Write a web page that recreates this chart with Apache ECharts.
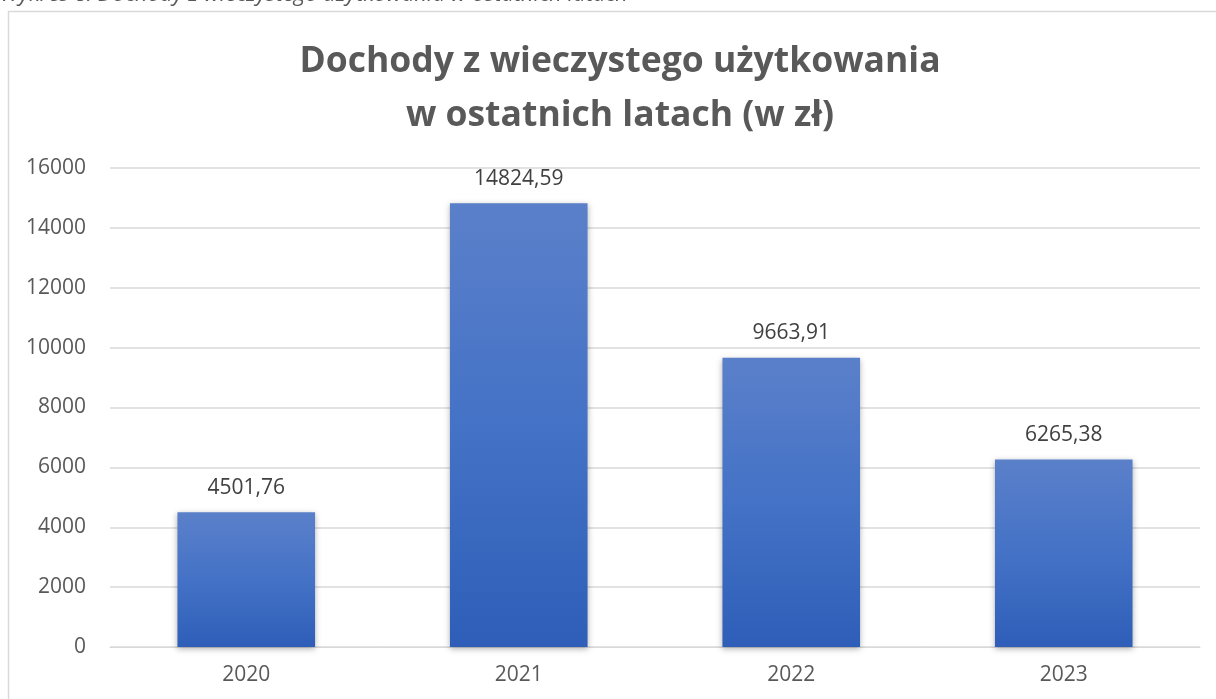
<!DOCTYPE html>
<html>
<head>
<meta charset="utf-8">
<script src="https://cdn.jsdelivr.net/npm/echarts@6/dist/echarts.min.js"></script>
<style>html,body{margin:0;padding:0;background:#fff;}#c{width:1216px;height:699px;}</style>
</head>
<body>
<div id="c"></div>
<script>
const categories = ['2020', '2021', '2022', '2023'];
const values = [4501.76, 14824.59, 9663.91, 6265.38];
const titleLines = ['Dochody z wieczystego użytkowania', 'w ostatnich latach (w zł)'];
const caption = 'Wykres 8. Dochody z wieczystego użytkowania w ostatnich latach';

const chart = echarts.init(document.getElementById('c'));
const fmt = v => v.toFixed(2).replace('.', ',');
chart.setOption({
  animation: false,
  backgroundColor: '#fff',
  graphic: [
    { type: 'rect', shape: { x: 8.5, y: 11.5, width: 1220, height: 700 }, style: { fill: 'none', stroke: '#d9d9d9', lineWidth: 1.5 } },
    { type: 'text', x: 0, y: -16, style: { text: caption, font: 'italic 22px "Open Sans", sans-serif', fill: '#595959', textVerticalAlign: 'top' } }
  ],
  title: {
    text: titleLines.join('\n'),
    left: 615,
    textAlign: 'center',
    top: 29.5,
    textStyle: { fontFamily: '"Open Sans", sans-serif', fontWeight: 'bold', fontSize: 35.5, color: '#595959', lineHeight: 54 }
  },
  grid: { left: 110, right: 16, top: 168, bottom: 52 },
  xAxis: {
    type: 'category',
    data: categories,
    axisLine: { lineStyle: { color: '#d9d9d9', width: 1 } },
    axisTick: { show: false },
    axisLabel: { color: '#595959', fontSize: 21, fontFamily: '"Open Sans", sans-serif', margin: 18 }
  },
  yAxis: {
    type: 'value',
    min: 0, max: 16000, interval: 2000,
    axisLine: { show: false },
    axisTick: { show: false },
    axisLabel: { color: '#595959', fontSize: 21, fontFamily: '"Open Sans", sans-serif', margin: 24, formatter: v => String(v) },
    splitLine: { lineStyle: { color: '#d9d9d9', width: 1.5 } }
  },
  series: [{
    type: 'bar',
    data: values,
    barWidth: '50.5%',
    itemStyle: {
      color: new echarts.graphic.LinearGradient(0, 0, 0, 1, [
        { offset: 0, color: '#5b80ca' },
        { offset: 0.5, color: '#4472c6' },
        { offset: 1, color: '#2e5eb8' }
      ]),
      shadowColor: 'rgba(0,0,0,0.3)', shadowBlur: 6, shadowOffsetY: 2
    },
    label: {
      show: true, position: 'top', distance: 14,
      formatter: p => fmt(p.value),
      color: '#404040', fontSize: 21, fontFamily: '"Open Sans", sans-serif'
    }
  }]
});
</script>
</body>
</html>
